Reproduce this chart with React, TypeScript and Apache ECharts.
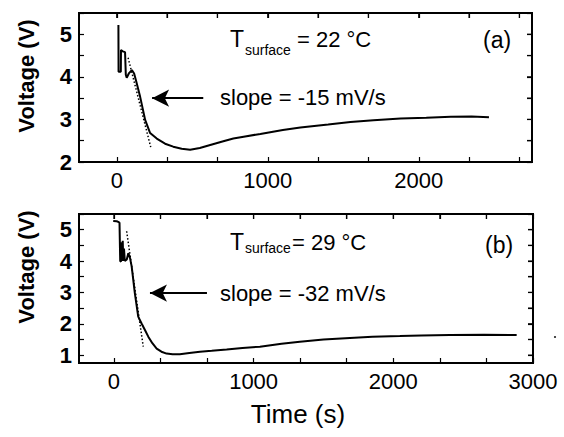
import React, { useEffect, useRef } from "react";
import * as echarts from "echarts";

// Panel (a): T_surface = 22 °C
const timeA = [11, 12, 27, 28, 40, 55, 60, 66, 80, 100, 115, 130, 155, 188, 221, 265, 320, 374, 430, 486, 550, 619, 700, 772, 850, 951, 1100, 1216, 1400, 1548, 1700, 1880, 2050, 2212, 2350, 2465];
const voltA = [5.22, 4.12, 4.12, 4.63, 4.6, 4.58, 4.05, 3.98, 4.08, 4.16, 4.08, 3.88, 3.53, 2.99, 2.68, 2.55, 2.43, 2.36, 2.31, 2.29, 2.33, 2.4, 2.48, 2.55, 2.6, 2.66, 2.75, 2.81, 2.88, 2.94, 2.98, 3.02, 3.04, 3.06, 3.07, 3.05];
const fitTimeA = [75, 225];
const fitVoltA = [4.45, 2.35];

// Panel (b): T_surface = 29 °C
const timeB = [-5, 20, 31, 40, 45, 50, 55, 58, 63, 67, 72, 78, 92, 103, 115, 127, 150, 174, 198, 222, 246, 275, 306, 340, 377, 420, 472, 540, 616, 700, 807, 920, 1045, 1200, 1331, 1500, 1689, 1850, 2047, 2200, 2405, 2650, 2883];
const voltB = [5.28, 5.27, 5.25, 5.22, 4.0, 3.98, 4.6, 4.0, 4.65, 4.0, 4.4, 4.0, 4.05, 4.25, 4.1, 3.83, 2.97, 2.23, 2.01, 1.8, 1.59, 1.38, 1.21, 1.11, 1.05, 1.03, 1.03, 1.07, 1.11, 1.14, 1.18, 1.23, 1.27, 1.36, 1.43, 1.5, 1.55, 1.59, 1.61, 1.63, 1.64, 1.65, 1.64];
const fitTimeB = [91, 210];
const fitVoltB = [4.95, 1.27];

// Axes
const xRangeA = [-250, 2750];
const xRangeB = [-250, 3000];
const yRangeA = [2, 5.5];
const yRangeB = [0.75, 5.5];
const xLabelsA = [0, 1000, 2000];
const xLabelsB = [0, 1000, 2000, 3000];
const yLabelsA = [2, 3, 4, 5];
const yLabelsB = [1, 2, 3, 4, 5];
const xTickStep = 1000 / 3;
const yTickStep = 0.5;

// Annotations
const arrowA = { from: [573, 3.5], to: [234, 3.5] };
const arrowB = { from: [666, 2.98], to: [258, 2.98] };

const FONT = "'Liberation Sans', Arial, sans-serif";

function ticksBetween(min: number, max: number, step: number) {
  const out: number[] = [];
  const start = Math.ceil((min - 1e-6) / step);
  for (let k = start; k * step <= max + 1e-6; k++) out.push(Math.round(k * step * 1000) / 1000);
  return out;
}

function axisPair(kind: "x" | "y", gridIndex: number, range: number[], labels: number[], step: number) {
  const ticks = ticksBetween(range[0], range[1], step);
  const base = {
    gridIndex,
    type: "value" as const,
    min: range[0],
    max: range[1],
    splitLine: { show: false },
    axisLine: { show: true, onZero: false, lineStyle: { color: "#000", width: 2 } },
    axisTick: { show: true, inside: true, length: 5, customValues: ticks, lineStyle: { color: "#000", width: 1.2 } },
  };
  const main = {
    ...base,
    position: kind === "x" ? "bottom" : "left",
    axisLabel: {
      show: true,
      customValues: labels,
      formatter: (v: number) => String(Math.round(v * 100) / 100),
      margin: 7,
      color: "#000",
      fontSize: 22,
      fontWeight: kind === "y" ? "bold" : "normal",
      fontFamily: FONT,
    },
  };
  const mirror = { ...base, position: kind === "x" ? "top" : "right", axisLabel: { show: false } };
  return [main, mirror];
}

function arrowMark(a: { from: number[]; to: number[] }) {
  return {
    silent: true,
    symbol: ["arrow", "none"],
    symbolSize: [13, 17],
    label: { show: false },
    lineStyle: { color: "#000", width: 2, type: "solid" },
    data: [[{ coord: a.to }, { coord: a.from }]],
  };
}

function txt(id: string, text: string, x: number, y: number, size: number, extra: any = {}) {
  return {
    id,
    type: "text",
    x,
    y,
    silent: true,
    style: {
      text,
      fill: "#000",
      fontSize: size,
      fontFamily: FONT,
      textAlign: "left",
      textVerticalAlign: "middle",
      ...extra,
    },
  };
}

export default function App() {
  const ref = useRef<HTMLDivElement>(null);

  useEffect(() => {
    if (!ref.current) return;
    const chart = echarts.init(ref.current, null, { renderer: "svg" });
    const pair = (t: number[], v: number[]) => t.map((x, i) => [x, v[i]]);
    const gridBase = { show: true, borderColor: "#000", borderWidth: 2 };

    const texts: any[] = [
      {
        id: "yt1", type: "text", x: 26, y: 76, rotation: Math.PI / 2, silent: true,
        style: { text: "Voltage (V)", fill: "#000", fontSize: 22, fontWeight: "bold", fontFamily: FONT, textAlign: "center", textVerticalAlign: "middle" },
      },
      {
        id: "yt2", type: "text", x: 26, y: 267, rotation: Math.PI / 2, silent: true,
        style: { text: "Voltage (V)", fill: "#000", fontSize: 22, fontWeight: "bold", fontFamily: FONT, textAlign: "center", textVerticalAlign: "middle" },
      },
      txt("xt", "Time (s)", 298, 414, 26, { textAlign: "center" }),
      txt("ta1", "T", 230, 39, 23),
      txt("ta2", "surface", 245, 50, 14),
      txt("ta3", "= 22 °C", 297, 39, 22),
      txt("pa", "(a)", 483, 40, 23),
      txt("sa", "slope = -15 mV/s", 220, 97, 22),
      txt("tb1", "T", 230, 242, 23),
      txt("tb2", "surface", 245, 248, 14),
      txt("tb3", "= 29 °C", 292, 242, 22),
      txt("pb", "(b)", 485, 245, 23),
      txt("sb", "slope = -32 mV/s", 220, 293, 22),
      { id: "speck", type: "circle", silent: true, shape: { cx: 555, cy: 337, r: 1.1 }, style: { fill: "#333" } },
    ];

    chart.setOption({
      animation: false,
      grid: [
        { ...gridBase, left: 79, top: 13, right: 32, height: 149 },
        { ...gridBase, left: 79, top: 214, right: 31, height: 149 },
      ],
      xAxis: [...axisPair("x", 0, xRangeA, xLabelsA, xTickStep), ...axisPair("x", 1, xRangeB, xLabelsB, xTickStep)],
      yAxis: [...axisPair("y", 0, yRangeA, yLabelsA, yTickStep), ...axisPair("y", 1, yRangeB, yLabelsB, yTickStep)],
      series: [
        { type: "line", xAxisIndex: 0, yAxisIndex: 0, data: pair(timeA, voltA), showSymbol: false, lineStyle: { color: "#000", width: 2 }, markLine: arrowMark(arrowA) },
        { type: "line", xAxisIndex: 0, yAxisIndex: 0, data: pair(fitTimeA, fitVoltA), showSymbol: false, lineStyle: { color: "#000", width: 1.5, type: [1.5, 2] } },
        { type: "line", xAxisIndex: 2, yAxisIndex: 2, data: pair(timeB, voltB), showSymbol: false, lineStyle: { color: "#000", width: 2 }, markLine: arrowMark(arrowB) },
        { type: "line", xAxisIndex: 2, yAxisIndex: 2, data: pair(fitTimeB, fitVoltB), showSymbol: false, lineStyle: { color: "#000", width: 1.5, type: [1.5, 2] } },
        { type: "line", xAxisIndex: 1, yAxisIndex: 1, data: [], showSymbol: false, silent: true },
        { type: "line", xAxisIndex: 3, yAxisIndex: 3, data: [], showSymbol: false, silent: true },
      ],
      graphic: texts,
    });

    // Frame and mirrored ticks, positioned through the axes' own scales
    const frame: any[] = [];
    const panels = [
      { xi: 0, yi: 0, xr: xRangeA, yr: yRangeA },
      { xi: 2, yi: 2, xr: xRangeB, yr: yRangeB },
    ];
    panels.forEach((p, n) => {
      const tl = chart.convertToPixel({ xAxisIndex: p.xi, yAxisIndex: p.yi }, [p.xr[0], p.yr[1]]) as number[];
      const br = chart.convertToPixel({ xAxisIndex: p.xi, yAxisIndex: p.yi }, [p.xr[1], p.yr[0]]) as number[];
      if (!tl || !br) return;
      const L = tl[0], T = tl[1], R = br[0], B = br[1];
      const lineStyle = { stroke: "#000", lineWidth: 2 };
      frame.push({ id: `fT${n}`, type: "line", silent: true, shape: { x1: L, y1: T, x2: R, y2: T }, style: lineStyle, z: 100 });
      frame.push({ id: `fR${n}`, type: "line", silent: true, shape: { x1: R, y1: T, x2: R, y2: B }, style: lineStyle, z: 100 });
      frame.push({ id: `fB${n}`, type: "line", silent: true, shape: { x1: L, y1: B, x2: R, y2: B }, style: lineStyle, z: 100 });
      frame.push({ id: `fL${n}`, type: "line", silent: true, shape: { x1: L, y1: T, x2: L, y2: B }, style: lineStyle, z: 100 });
      ticksBetween(p.xr[0], p.xr[1], xTickStep).forEach((t, k) => {
        const x = chart.convertToPixel({ xAxisIndex: p.xi }, t) as number;
        frame.push({ id: `tx${n}_${k}`, type: "line", silent: true, shape: { x1: x, y1: T, x2: x, y2: T + 5 }, style: { stroke: "#000", lineWidth: 1.2 }, z: 100 });
      });
      ticksBetween(p.yr[0], p.yr[1], yTickStep).forEach((v, k) => {
        const y = chart.convertToPixel({ yAxisIndex: p.yi }, v) as number;
        frame.push({ id: `ty${n}_${k}`, type: "line", silent: true, shape: { x1: R, y1: y, x2: R - 5, y2: y }, style: { stroke: "#000", lineWidth: 1.2 }, z: 100 });
      });
    });
    chart.setOption({ graphic: texts.concat(frame) });

    return () => chart.dispose();
  }, []);

  return (
    <div
      ref={ref}
      style={{ position: "absolute", left: 0, top: 0, width: 564, height: 437, background: "#fff" }}
    />
  );
}
